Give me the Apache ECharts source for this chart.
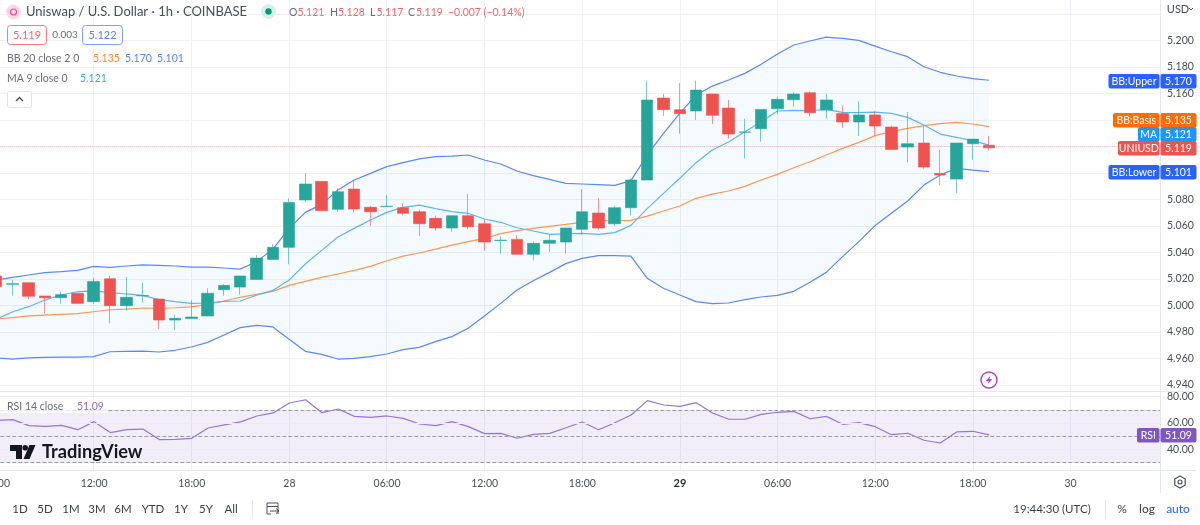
<!DOCTYPE html>
<html><head><meta charset="utf-8">
<style>html,body{margin:0;padding:0;background:#fff;overflow:hidden;width:1200px;height:525px}#c{position:absolute;left:-20px;top:0;width:1220px;height:525px}</style>
<script src="https://cdn.jsdelivr.net/npm/echarts@6/dist/echarts.min.js"></script>
</head><body><div id="c"></div>
<script>
const hours = ['06:00','07:00','08:00','09:00','10:00','11:00','12:00','13:00','14:00','15:00','16:00','17:00','18:00','19:00','20:00','21:00','22:00','23:00',
 '28','01:00','02:00','03:00','04:00','05:00','06:00','07:00','08:00','09:00','10:00','11:00','12:00','13:00','14:00','15:00','16:00','17:00','18:00','19:00','20:00','21:00','22:00','23:00',
 '29','01:00','02:00','03:00','04:00','05:00','06:00','07:00','08:00','09:00','10:00','11:00','12:00','13:00','14:00','15:00','16:00','17:00','18:00','19:00','20:00','21:00','22:00','23:00',
 '30','01:00','02:00','03:00','04:00','05:00'];
const opens = [5.0223,5.0160,5.0172,5.0072,5.0059,5.0092,5.0029,5.0202,4.9999,5.0073,5.0049,4.9890,4.9901,4.9921,5.0119,5.0139,5.0197,5.0348,5.0439,5.0796,5.0937,5.0726,
 5.0879,5.0741,5.0747,5.0738,5.0708,5.0658,5.0585,5.0678,5.0617,5.0490,5.0499,5.0386,5.0469,5.0479,5.0575,5.0698,5.0617,5.0738,
 5.0947,5.1566,5.1478,5.1468,5.1596,5.1490,5.1308,5.1334,5.1485,5.1553,5.1606,5.1475,5.1450,5.1385,5.1438,5.1347,5.1196,5.1226,5.0997,5.0954,5.1221,5.121];
const closes = [5.0142,5.0165,5.0069,5.0059,5.0082,5.0016,5.0182,4.9999,5.0062,5.0075,4.9890,4.9903,4.9913,5.0092,5.0152,5.0223,5.0358,5.0439,5.0778,5.0917,5.0716,5.0859,
 5.0728,5.0708,5.0749,5.0696,5.0617,5.0585,5.0678,5.0595,5.0479,5.0493,5.0386,5.0469,5.0492,5.0585,5.0708,5.0585,5.0738,5.0947,
 5.1551,5.1478,5.1448,5.1626,5.1435,5.1294,5.1310,5.1480,5.1556,5.1596,5.1455,5.1551,5.1385,5.1438,5.1354,5.1178,5.1221,5.1045,5.0985,5.1226,5.1256,5.119];
const highs = [5.0240,5.0192,5.0172,5.0072,5.0102,5.0092,5.0212,5.0223,5.0215,5.0172,5.0049,4.9928,5.0039,5.0129,5.0162,5.0223,5.0381,5.0462,5.0809,5.0997,5.0937,5.0884,
 5.0942,5.0751,5.0834,5.0771,5.0721,5.0680,5.0678,5.0841,5.0650,5.0522,5.0532,5.0482,5.0532,5.0585,5.0879,5.0811,5.0751,5.0957,
 5.1697,5.1596,5.1679,5.1697,5.1596,5.1551,5.1410,5.1480,5.1576,5.1609,5.1616,5.1596,5.1510,5.1541,5.1468,5.1357,5.1460,5.1354,5.1173,5.1226,5.1256,5.128];
const lows = [5.0142,5.0074,5.0046,4.9941,5.0014,5.0016,5.0014,4.9865,4.9961,5.0021,4.9823,4.9815,4.9901,4.9921,5.0074,5.0082,5.0197,5.0343,5.0311,5.0781,5.0716,5.0708,
 5.0701,5.0600,5.0746,5.0680,5.0524,5.0565,5.0555,5.0575,5.0414,5.0391,5.0386,5.0341,5.0404,5.0391,5.0534,5.0572,5.0602,5.0680,
 5.0947,5.1430,5.1297,5.1400,5.1370,5.1259,5.1110,5.1236,5.1440,5.1500,5.1430,5.1410,5.1339,5.1279,5.1279,5.1178,5.1080,5.1032,5.0909,5.0851,5.1100,5.117];
const bbUpper = [5.0192,5.0212,5.0230,5.0248,5.0255,5.0265,5.0295,5.0288,5.0298,5.0306,5.0303,5.0298,5.0290,5.0290,5.0283,5.0275,5.0331,5.0424,5.0582,5.0703,5.0763,5.0872,
 5.0947,5.0997,5.1048,5.1078,5.1106,5.1123,5.1128,5.1136,5.1098,5.1068,5.1015,5.0980,5.0952,5.0922,5.0917,5.0912,5.0907,5.0942,
 5.1136,5.1299,5.1450,5.1588,5.1656,5.1702,5.1752,5.1820,5.1898,5.1966,5.1996,5.2026,5.2016,5.2001,5.1958,5.1915,5.1878,5.1802,5.1760,5.1732,5.1712,5.170];
const bbBasis = [4.9898,4.9908,4.9921,4.9928,4.9933,4.9938,4.9953,4.9968,4.9973,4.9981,4.9979,4.9983,4.9989,5.0009,5.0034,5.0062,5.0084,5.0107,5.0152,5.0182,5.0212,5.0238,
 5.0265,5.0295,5.0338,5.0373,5.0396,5.0426,5.0456,5.0482,5.0507,5.0542,5.0565,5.0582,5.0597,5.0612,5.0628,5.0638,5.0640,5.0643,
 5.0675,5.0713,5.0751,5.0809,5.0841,5.0864,5.0899,5.0947,5.0990,5.1040,5.1085,5.1136,5.1186,5.1231,5.1282,5.1312,5.1337,5.1357,5.1372,5.1382,5.1370,5.135];
const bbLower = [4.9604,4.9596,4.9604,4.9609,4.9610,4.9611,4.9614,4.9651,4.9654,4.9656,4.9649,4.9662,4.9687,4.9722,4.9777,4.9833,4.9850,4.9838,4.9745,4.9654,4.9631,4.9596,
 4.9601,4.9614,4.9634,4.9667,4.9684,4.9727,4.9765,4.9828,4.9921,5.0016,5.0117,5.0187,5.0250,5.0316,5.0356,5.0376,5.0376,5.0373,
 5.0205,5.0130,5.0079,5.0029,5.0014,5.0019,5.0044,5.0064,5.0077,5.0107,5.0175,5.0250,5.0369,5.0482,5.0603,5.0696,5.0789,5.0909,5.0985,5.1035,5.1022,5.101];
const ma9 = [4.9895,4.9951,4.9991,5.0041,5.0079,5.0104,5.0109,5.0099,5.0087,5.0077,5.0044,5.0029,5.0016,5.0019,5.0031,5.0034,5.0077,5.0114,5.0192,5.0313,5.0416,5.0517,
 5.0582,5.0645,5.0703,5.0741,5.0758,5.0731,5.0708,5.0696,5.0653,5.0628,5.0587,5.0562,5.0537,5.0540,5.0545,5.0537,5.0550,5.0605,
 5.0731,5.0846,5.0960,5.1078,5.1173,5.1234,5.1312,5.1387,5.1468,5.1473,5.1470,5.1480,5.1458,5.1455,5.1460,5.1450,5.1420,5.1362,5.1294,5.1269,5.1244,5.121];
const rsi = [62.1,62.6,58.1,57.5,58.3,55.0,61.1,52.8,55.0,55.5,47.5,47.7,48.5,56.3,58.6,60.9,65.4,67.7,75.2,77.7,67.9,70.7,65.1,64.4,65.4,63.6,59.3,58.1,61.1,57.3,52.0,52.2,48.5,51.5,52.2,56.5,60.8,55.0,60.3,66.1,
 77.0,73.7,72.7,75.5,67.7,62.9,62.9,66.6,68.2,68.9,63.3,65.1,59.1,60.3,57.3,51.2,52.3,47.0,44.9,53.3,53.8,51.09];
const lastPrice = 5.119;
const rsiLevels = [30,50,70];
const rsiGrid = [40,60,80];
const rsiTickLabels = ['80.00','60.00','40.00'];
const hiddenPriceTicks = ['5.220','5.140','5.120','5.100'];
const rangeButtons = ['1D','5D','1M','3M','6M','YTD','1Y','5Y','All'];

const FONT = 'Lato, "Noto Sans", sans-serif';
const bandDiff = bbUpper.map((v,i)=>+(v-bbLower[i]).toFixed(4));
const candleData = opens.map((o,i)=>[o,closes[i],lows[i],highs[i]]);
const BLEED=20, GRID_LEFT=BLEED-12.1, GRID_RIGHT=40;
const gridColor='#eff1f7';
const isLabelled = i => i%6===0;

const gfx=[];
const txt=(x,y,text,fill,size,extra={})=>gfx.push({type:'text',x,y,z:100,silent:true,style:Object.assign({text,fill,font:`${extra.weight||'normal'} ${size}px ${FONT}`,align:extra.align||'left',verticalAlign:'middle'},{})});
const rect=(x,y,w,h,style,r=0)=>gfx.push({type:'rect',z:99,silent:true,shape:{x,y,width:w,height:h,r},style});
const line=(x1,y1,x2,y2,stroke,lw=1)=>gfx.push({type:'line',z:99,silent:true,shape:{x1,y1,x2,y2},style:{stroke,lineWidth:lw}});
const circle=(cx,cy,r,style)=>gfx.push({type:'circle',z:99,silent:true,shape:{cx,cy,r},style});
const poly=(points,style)=>gfx.push({type:'polygon',z:100,silent:true,shape:{points},style});
const pline=(points,style)=>gfx.push({type:'polyline',z:100,silent:true,shape:{points},style});

// header
circle(13.5,12,7.5,{fill:'#fcdbe8'});
circle(13.5,12,3,{fill:'none',stroke:'#f0459a',lineWidth:1.2});
txt(26,12,'Uniswap / U.S. Dollar · 1h · COINBASE','#4a4e5a',13);
circle(268.5,11.5,7.5,{fill:'#d6f0ec'});
circle(268.5,11.5,3.2,{fill:'#089981'});
const red='#f4686a', grey='#6a6d78';
[[289,'O',297.5,'5.121'],[330,'H',338,'5.128'],[370,'L',376.5,'5.117'],[408,'C',416,'5.119']].forEach(a=>{txt(a[0],13,a[1],grey,10.5);txt(a[2],13,a[3],red,10.5);});
txt(448,13,'−0.007 (−0.14%)',red,10.5);
rect(7.5,25.5,39,19,{fill:'#fff',stroke:'#f77c80',lineWidth:1},3);
txt(27,35,'5.119',red,11,{align:'center'});
txt(65,35,'0.003',grey,10,{align:'center'});
rect(82.5,25.5,40,19,{fill:'#fff',stroke:'#7f9fff',lineWidth:1},3);
txt(102.5,35,'5.122','#5b82f5',11,{align:'center'});
txt(7,59,'BB 20 close 2 0',grey,10.5);
txt(93,59,'5.135','#ff8a33',10.5);txt(125,59,'5.170','#5b82f5',10.5);txt(157,59,'5.101','#5b82f5',10.5);
txt(7,79,'MA 9 close 0',grey,10.5);
txt(80,79,'5.121','#42a5f5',10.5);
rect(7.5,91.5,24,16,{fill:'#fff',stroke:'#e0e3eb',lineWidth:1},2);
pline([[16,101],[19.5,97.5],[23,101]],{stroke:'#4a4e5a',lineWidth:1.3,fill:'none'});

// axis chrome
line(1160.5,0,1160.5,493,'#e6e8ef');
line(0,391.5,1196,391.5,'#e6e8ef');
line(0,470.5,1196,470.5,'#e6e8ef');
txt(1178,9,'USD','#4a4e5a',11,{align:'center'});
pline([[1189,8],[1191,10],[1193,8]],{stroke:'#4a4e5a',lineWidth:1,fill:'none'});

// price tags
[['BB:Upper','5.170',1108.5,74,'#2962ff'],['BB:Basis','5.135',1113,113,'#ff6d00'],['MA','5.121',1138,127,'#2196f3'],['UNIUSD','5.119',1118,141,'#ef5350'],['BB:Lower','5.101',1108.5,165,'#2962ff'],['RSI','51.09',1137,428,'#7e57c2']].forEach(t=>{
  rect(t[2],t[3],1159.5-t[2],14.5,{fill:t[4]},2);
  rect(1160.5,t[3],36,14.5,{fill:t[4]},2);
  txt((t[2]+1159.5)/2,t[3]+7.5,t[0],'#fff',10.5,{align:'center'});
  txt(1178.5,t[3]+7.5,t[1],'#fff',10.5,{align:'center'});
});
// event icon
circle(989,380,8,{fill:'#fff',stroke:'#ab47bc',lineWidth:1.4});
poly([[990.5,375.5],[985.8,381],[988.7,381],[987.5,384.5],[992.2,379],[989.3,379]],{fill:'#ab47bc'});
// rsi legend
rect(0,400,108,13,{fill:'rgba(255,255,255,0.75)'});
txt(7,406.5,'RSI 14 close',grey,10.5);
txt(77,406.5,'51.09','#8a6fd0',10.5);
// watermark
rect(10,445,12,6,{fill:'#131722'});rect(16,451,6,8,{fill:'#131722'});
circle(25.2,447.8,2.8,{fill:'#131722'});
poly([[29.5,445],[35.5,445],[29.5,459],[23.5,459]],{fill:'#131722'});
txt(42,452.5,'TradingView','#131722',18.2,{weight:'bold'});
// gear
const hex=[[1180,476],[1185.2,479],[1185.2,485],[1180,488],[1174.8,485],[1174.8,479]];
poly(hex,{fill:'none',stroke:'#4a4e5a',lineWidth:1.2});
circle(1180,482,2,{fill:'none',stroke:'#4a4e5a',lineWidth:1.2});
// bottom bar
[20,45,71,97,123,153,181,206,231].forEach((x,i)=>txt(x,509,rangeButtons[i],'#3a3e4a',11.5,{align:'center'}));
line(252.5,500,252.5,518,'#e6e8ef');
rect(267,503,11,3.5,{fill:'none',stroke:'#4a4e5a',lineWidth:1});
pline([[267,506.5],[267,514],[271,514]],{stroke:'#4a4e5a',lineWidth:1,fill:'none'});
pline([[278,506.5],[278,514]],{stroke:'#4a4e5a',lineWidth:1,fill:'none'});
pline([[270,511],[279,511]],{stroke:'#4a4e5a',lineWidth:1,fill:'none'});
pline([[276,508.5],[279,511],[276,513.5]],{stroke:'#4a4e5a',lineWidth:1,fill:'none'});
txt(1052,509,'19:44:30 (UTC)','#3a3e4a',11.5,{align:'center'});
line(1105.5,500,1105.5,519,'#e6e8ef');
txt(1122,509,'%','#3a3e4a',12,{align:'center'});
txt(1147,509,'log','#3a3e4a',12,{align:'center'});
txt(1178,509,'auto','#2962ff',12,{align:'center'});

const axisStyle={color:'#4a4e5a',fontSize:10.5,fontFamily:FONT};
const option={
 animation:false,
 backgroundColor:'#fff',
 grid:[
  {left:GRID_LEFT,right:GRID_RIGHT,top:0,height:470},
  {left:GRID_LEFT,right:GRID_RIGHT,top:14,height:371},
  {left:GRID_LEFT,right:GRID_RIGHT,top:396.7,height:66}
 ],
 xAxis:[
  {gridIndex:0,type:'category',data:hours,axisLine:{show:false},axisTick:{show:false},axisLabel:{show:false},
   splitLine:{show:true,alignWithLabel:true,interval:(i)=>isLabelled(i),lineStyle:{color:gridColor,width:1}}},
  {gridIndex:1,type:'category',data:hours,axisLine:{show:false},axisTick:{show:false},axisLabel:{show:false},splitLine:{show:false}},
  {gridIndex:2,type:'category',data:hours,axisLine:{show:false},axisTick:{show:false},splitLine:{show:false},
   axisLabel:{show:true,interval:(i)=>isLabelled(i),margin:15,color:'#4a4e5a',fontSize:10.5,fontFamily:FONT,hideOverlap:false,
    formatter:(v)=>v==='29'?'{b|29}':v,rich:{b:{fontWeight:'bold',fontSize:11,color:'#2a2e39',fontFamily:FONT}}}}
 ],
 yAxis:[
  {gridIndex:0,type:'value',show:false,min:0,max:1,splitLine:{show:false}},
  {gridIndex:1,type:'value',position:'right',min:4.94,max:5.22,interval:0.02,scale:true,axisLine:{show:false},axisTick:{show:false},
   splitLine:{show:true,lineStyle:{color:gridColor}},
   axisLabel:Object.assign({},axisStyle,{margin:7,formatter:(v)=>{const s=v.toFixed(3);return hiddenPriceTicks.includes(s)?'':s;}})},
  {gridIndex:2,type:'value',position:'right',min:30,max:80,interval:10,axisLine:{show:false},axisTick:{show:false},splitLine:{show:false},
   axisLabel:Object.assign({},axisStyle,{margin:7,formatter:(v)=>{const s=v.toFixed(2);return rsiTickLabels.includes(s)?s:'';}})}
 ],
 graphic:{elements:[{type:'group',x:BLEED,y:0,silent:true,children:gfx}]},
 series:[
  {name:'bg',type:'line',xAxisIndex:0,yAxisIndex:0,data:[],silent:true},
  {name:'bandBase',type:'line',xAxisIndex:1,yAxisIndex:1,data:bbLower,stack:'bb',symbol:'none',silent:true,lineStyle:{width:0},z:1},
  {name:'bandFill',type:'line',xAxisIndex:1,yAxisIndex:1,data:bandDiff,stack:'bb',symbol:'none',silent:true,lineStyle:{width:0},areaStyle:{color:'rgba(33,150,243,0.05)',opacity:1},z:1},
  {name:'BB Upper',type:'line',xAxisIndex:1,yAxisIndex:1,data:bbUpper,symbol:'none',silent:true,lineStyle:{color:'#5c86fb',width:1.2},z:3},
  {name:'BB Lower',type:'line',xAxisIndex:1,yAxisIndex:1,data:bbLower,symbol:'none',silent:true,lineStyle:{color:'#5c86fb',width:1.2},z:3},
  {name:'BB Basis',type:'line',xAxisIndex:1,yAxisIndex:1,data:bbBasis,symbol:'none',silent:true,lineStyle:{color:'#ff9650',width:1.2},z:3},
  {name:'MA',type:'line',xAxisIndex:1,yAxisIndex:1,data:ma9,symbol:'none',silent:true,lineStyle:{color:'#5db5f5',width:1.2},z:3},
  {name:'UNIUSD',type:'candlestick',xAxisIndex:1,yAxisIndex:1,data:candleData,barWidth:12,z:5,silent:true,
   itemStyle:{color:'#26a69a',color0:'#ef5350',borderColor:'rgba(38,166,154,0.6)',borderColor0:'rgba(239,83,80,0.6)',borderColorDoji:'rgba(38,166,154,0.8)',borderWidth:1},
   markLine:{silent:true,symbol:'none',label:{show:false},animation:false,data:[{yAxis:lastPrice}],lineStyle:{color:'rgba(239,83,80,0.28)',type:'dotted',width:1}}},
  {name:'RSI',type:'line',xAxisIndex:2,yAxisIndex:2,data:rsi,symbol:'none',silent:true,lineStyle:{color:'#9575d8',width:1.2},z:4,
   markArea:{silent:true,data:[[{yAxis:rsiLevels[0]},{yAxis:rsiLevels[2]}]],itemStyle:{color:'rgba(126,87,194,0.1)'}},
   markLine:{silent:true,symbol:'none',label:{show:false},animation:false,
    data:rsiLevels.map(v=>({yAxis:v,lineStyle:{color:'#9a9ca6',type:'dashed',width:1}})).concat(rsiGrid.map(v=>({yAxis:v,lineStyle:{color:'#eceaf4',type:'solid',width:1}})))}}
 ]
};
const chart=echarts.init(document.getElementById('c'));
chart.setOption(option);
</script></body></html>
